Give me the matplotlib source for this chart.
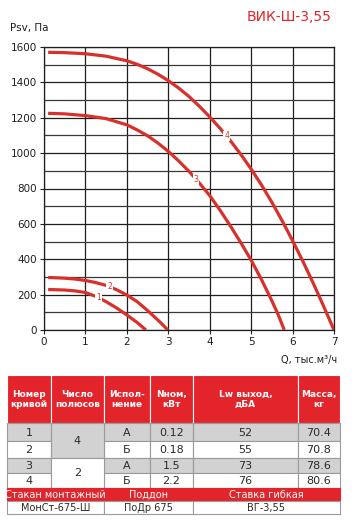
import numpy as np
import matplotlib
matplotlib.use('Agg')
import matplotlib.pyplot as plt
from matplotlib.patches import Rectangle

plt.rcParams['font.family'] = ['DejaVu Sans']

# curves: Q (тыс.м3/ч) and Psv (Па)
q1 = [0.1, 0.5, 0.75, 1.0, 1.25, 1.5, 1.75, 2.0, 2.25, 2.46]
p1 = [229, 226, 221, 212, 190, 160, 125, 85, 42, 0]
q2 = [0.1, 0.5, 0.75, 1.0, 1.25, 1.5, 1.75, 2.0, 2.25, 2.5, 2.75, 2.99]
p2 = [297, 293, 288, 280, 268, 252, 228, 198, 160, 110, 56, 0]
q3 = [0.1, 0.5, 1.0, 1.5, 2.0, 2.25, 2.5, 2.75, 3.0, 3.25, 3.5, 3.75, 4.0,
      4.25, 4.5, 4.75, 5.0, 5.25, 5.5, 5.65, 5.8]
p3 = [1225, 1222, 1212, 1195, 1160, 1131, 1098, 1057, 1010, 956, 897, 831, 760,
      677, 588, 494, 395, 285, 165, 88, 0]
q4 = [0.1, 0.5, 1.0, 1.5, 2.0, 2.25, 2.5, 2.75, 3.0, 3.25, 3.5, 3.75, 4.0,
      4.25, 4.5, 4.75, 5.0, 5.25, 5.5, 5.75, 6.0, 6.25, 6.5, 6.75, 7.0]
p4 = [1570, 1568, 1562, 1548, 1522, 1502, 1477, 1446, 1410, 1368, 1320, 1265, 1205,
      1140, 1070, 993, 910, 820, 722, 617, 505, 388, 264, 134, 0]
curves = [(q1, p1, '1'), (q2, p2, '2'), (q3, p3, '3'), (q4, p4, '4')]
label_pos = [(1.31, 182), (1.58, 245), (3.67, 852), (4.41, 1097)]

xticks = [0, 1, 2, 3, 4, 5, 6, 7]
yticks = [0, 200, 400, 600, 800, 1000, 1200, 1400, 1600]

# table data
header = ['Номер\nкривой', 'Число\nполюсов', 'Испол-\nнение', 'Nном,\nкВт', 'Lw выход,\nдБА', 'Масса,\nкг']
curve_no = ['1', '2', '3', '4']
poles = ['4', '2']
version = ['А', 'Б', 'А', 'Б']
power = ['0.12', '0.18', '1.5', '2.2']
lw = ['52', '55', '73', '76']
mass = ['70.4', '70.8', '78.6', '80.6']
acc_head = ['Стакан монтажный', 'Поддон', 'Ставка гибкая']
acc_val = ['МонСт-675-Ш', 'ПоДр 675', 'ВГ-3,55']

red = '#d8302b'
hred = '#e3242b'
W, H = 352, 531

fig = plt.figure(figsize=(W / 100, H / 100), dpi=100)
ax = fig.add_axes([44 / W, 1 - 330 / H, 290 / W, 283 / H])

for q, p, name in curves:
    ax.plot(q, p, color=red, lw=2.3, solid_capstyle='butt', zorder=3)
for (x, y), (_, _, name) in zip(label_pos, curves):
    ax.text(x, y, name, color=red, fontsize=5.5, ha='center', va='center', zorder=4,
            bbox=dict(boxstyle='square,pad=0.12', fc='white', ec='none'))

ax.set_xlim(0, 7)
ax.set_ylim(0, 1600)
ax.set_xticks(xticks)
ax.set_yticks(yticks)
ax.set_yticks(np.arange(100, 1600, 200), minor=True)
ax.grid(True, which='major', color='#1e1e1e', lw=0.9)
ax.grid(True, which='minor', axis='y', color='#3a3a3a', lw=0.9)
ax.tick_params(which='major', length=3, width=0.8, color='#222222', labelsize=7.5, pad=2,
               labelcolor='#1e1e1e')
ax.tick_params(which='minor', length=0)
for s in ax.spines.values():
    s.set_color('#1e1e1e')
    s.set_linewidth(0.9)

fig.text(331 / W, 1 - 17 / H, 'ВИК-Ш-3,55', color=hred, fontsize=10, ha='right', va='center')
fig.text(10 / W, 1 - 28 / H, 'Psv, Па', fontsize=7.5, ha='left', va='center', color='#1e1e1e')
fig.text(337 / W, 1 - 360 / H, 'Q, тыс.м³/ч', fontsize=7, ha='right', va='center', color='#1e1e1e')

# table drawn in pixel coordinates
tax = fig.add_axes([0, 0, 1, 1])
tax.set_xlim(0, W)
tax.set_ylim(H, 0)
tax.axis('off')

cx = [7, 51, 104, 150, 193, 298, 340]
ry = [375, 423, 441, 458, 473, 488, 501, 514]
grey = '#d2d2d2'
edge = '#9a9a9a'


def cell(x0, x1, y0, y1, txt, fc, tc='#2a2a2a', size=8, bold=False, ec=edge):
    tax.add_patch(Rectangle((x0, y0), x1 - x0, y1 - y0, fc=fc, ec=ec, lw=0.8))
    tax.text((x0 + x1) / 2, (y0 + y1) / 2 + 0.5, txt, ha='center', va='center', color=tc,
             fontsize=size, fontweight='bold' if bold else 'normal', linespacing=1.15)


for i, h in enumerate(header):
    cell(cx[i], cx[i + 1], ry[0], ry[1], h, hred, 'white', 6.5, True, ec='white')

for r in range(4):
    fc = grey if r % 2 == 0 else 'white'
    y0, y1 = ry[r + 1], ry[r + 2]
    cell(cx[0], cx[1], y0, y1, curve_no[r], fc)
    cell(cx[2], cx[3], y0, y1, version[r], fc)
    cell(cx[3], cx[4], y0, y1, power[r], fc)
    cell(cx[4], cx[5], y0, y1, lw[r], fc)
    cell(cx[5], cx[6], y0, y1, mass[r], fc)
cell(cx[1], cx[2], ry[1], ry[3], poles[0], grey)
cell(cx[1], cx[2], ry[3], ry[5], poles[1], 'white')

spans = [(cx[0], cx[2]), (cx[2], cx[4]), (cx[4], cx[6])]
for (x0, x1), t in zip(spans, acc_head):
    cell(x0, x1, ry[5], ry[6], t, hred, 'white', 7, ec=hred)
for (x0, x1), t in zip(spans, acc_val):
    cell(x0, x1, ry[6], ry[7], t, 'white', size=7)

fig.savefig('out.png', dpi=100)
